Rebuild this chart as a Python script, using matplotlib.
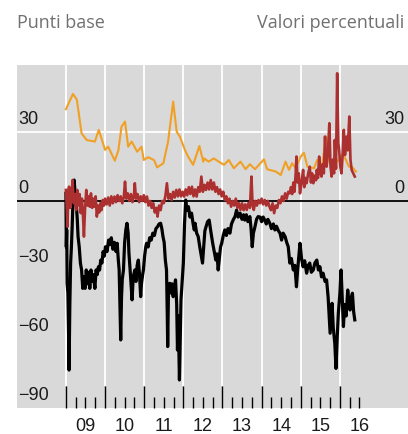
import numpy as np
import matplotlib
matplotlib.use("Agg")
from matplotlib import pyplot as plt
from matplotlib import transforms

############## Data ##############

## black series, punti base
black_t = [2009.00, 2009.01, 2009.02, 2009.03, 2009.05, 2009.07, 2009.08, 2009.10, 2009.12, 2009.14,
           2009.16, 2009.18, 2009.21, 2009.24, 2009.27, 2009.29, 2009.31, 2009.34, 2009.37, 2009.40,
           2009.43, 2009.46, 2009.49, 2009.52, 2009.55, 2009.58, 2009.61, 2009.64, 2009.67, 2009.70,
           2009.74, 2009.77, 2009.80, 2009.83, 2009.86, 2009.89, 2009.92, 2009.95, 2009.98, 2010.01,
           2010.05, 2010.09, 2010.12, 2010.16, 2010.20, 2010.24, 2010.28, 2010.31, 2010.34, 2010.36,
           2010.38, 2010.40, 2010.42, 2010.44, 2010.47, 2010.50, 2010.53, 2010.56, 2010.59, 2010.61,
           2010.64, 2010.67, 2010.69, 2010.72, 2010.76, 2010.79, 2010.82, 2010.85, 2010.88, 2010.91,
           2010.93, 2010.96, 2010.98, 2011.01, 2011.04, 2011.06, 2011.10, 2011.14, 2011.18, 2011.22,
           2011.26, 2011.30, 2011.34, 2011.38, 2011.42, 2011.45, 2011.48, 2011.51, 2011.54, 2011.57,
           2011.59, 2011.60, 2011.62, 2011.65, 2011.68, 2011.71, 2011.74, 2011.77, 2011.80, 2011.83,
           2011.85, 2011.87, 2011.90, 2011.92, 2011.94, 2011.97, 2012.00, 2012.03, 2012.06, 2012.09,
           2012.13, 2012.17, 2012.21, 2012.25, 2012.28, 2012.30, 2012.34, 2012.38, 2012.42, 2012.46,
           2012.49, 2012.52, 2012.55, 2012.58, 2012.62, 2012.66, 2012.70, 2012.75, 2012.79, 2012.83,
           2012.86, 2012.89, 2012.92, 2012.95, 2012.98, 2013.02, 2013.06, 2013.10, 2013.14, 2013.19,
           2013.23, 2013.28, 2013.32, 2013.36, 2013.40, 2013.45, 2013.50, 2013.54, 2013.57, 2013.61,
           2013.65, 2013.70, 2013.73, 2013.76, 2013.79, 2013.83, 2013.87, 2013.91, 2013.96, 2014.00,
           2014.04, 2014.08, 2014.12, 2014.16, 2014.21, 2014.25, 2014.30, 2014.34, 2014.38, 2014.43,
           2014.47, 2014.51, 2014.55, 2014.60, 2014.64, 2014.68, 2014.72, 2014.76, 2014.81, 2014.85,
           2014.89, 2014.92, 2014.96, 2014.98, 2015.02, 2015.06, 2015.10, 2015.15, 2015.19, 2015.23,
           2015.27, 2015.32, 2015.36, 2015.41, 2015.45, 2015.49, 2015.53, 2015.57, 2015.62, 2015.66,
           2015.70, 2015.75, 2015.78, 2015.80, 2015.83, 2015.87, 2015.90, 2015.93, 2015.96, 2016.00,
           2016.03, 2016.06, 2016.09, 2016.12, 2016.16, 2016.20, 2016.23, 2016.26, 2016.29, 2016.32,
           2016.35, 2016.38]
black_v = [3.3, -20, -12.6, -35.7, -40, -60, -73.5, -45, -27, -20,
           -11, 0, 9.1, 2, -2.5, -8, -15.5, -20, -27, -30,
           -38, -33, -38, -30, -36, -31, -38, -30, -35, -32,
           -38, -30, -32, -28.6, -30, -25.7, -27, -22, -24, -19.9,
           -22, -17, -19, -16, -21, -18, -22, -18.4, -26, -30,
           -45, -60.4, -42, -34, -30, -18, -12.6, -9.7, -14, -22.7,
           -30, -38, -43, -33, -30, -35, -28, -25.7, -32, -41.6,
           -36, -32, -30, -24, -20, -18.4, -20, -16, -17, -14,
           -15, -12, -11.2, -10, -9.7, -12, -15.5, -18, -25.7, -30,
           -50, -63.3, -40, -35.8, -40, -36, -41.6, -38, -34.3, -45,
           -64.8, -50, -77.8, -60, -43, -35, -27, -10, 0.4, -4,
           -2.5, -7, -5.3, -10, -12.6, -9.7, -14, -15.5, -20, -24,
           -27, -20, -13, -11.2, -9, -8.3, -13, -18.4, -22, -25.7,
           -23, -30, -25, -20, -18.4, -15, -12.6, -15, -12, -14,
           -10, -8, -6.8, -4, -7, -5.3, -8, -6, -8.3, -6,
           -9, -6.8, -12, -19.9, -14, -11.2, -8, -6.8, -7, -9,
           -7, -8.3, -10, -8, -9.7, -12, -10, -12.6, -11, -13,
           -14, -17, -14, -15.5, -18, -19.9, -27, -25, -30, -28,
           -37.3, -30, -22, -18.4, -25, -28.6, -26, -31.4, -28, -27,
           -31, -30, -27, -25.7, -30, -28.6, -33, -31.4, -35, -34.3,
           -42, -57.5, -50, -44.5, -55, -62, -72.8, -60, -48.8, -40,
           -30, -42, -54.6, -45, -50, -38.7, -44, -47.4, -42, -40.1,
           -48, -51.7]

## red series, punti base
red_t = [2009.00, 2009.02, 2009.04, 2009.06, 2009.08, 2009.11, 2009.14, 2009.17, 2009.20, 2009.23,
         2009.26, 2009.29, 2009.32, 2009.35, 2009.38, 2009.41, 2009.44, 2009.46, 2009.49, 2009.52,
         2009.55, 2009.58, 2009.61, 2009.64, 2009.67, 2009.70, 2009.73, 2009.76, 2009.79, 2009.82,
         2009.85, 2009.88, 2009.91, 2009.94, 2009.97, 2010.00, 2010.04, 2010.08, 2010.12, 2010.16,
         2010.20, 2010.24, 2010.28, 2010.32, 2010.36, 2010.40, 2010.44, 2010.48, 2010.51, 2010.54,
         2010.58, 2010.62, 2010.66, 2010.70, 2010.74, 2010.76, 2010.79, 2010.83, 2010.87, 2010.91,
         2010.95, 2010.99, 2011.03, 2011.07, 2011.11, 2011.15, 2011.19, 2011.23, 2011.27, 2011.31,
         2011.34, 2011.38, 2011.42, 2011.46, 2011.50, 2011.54, 2011.58, 2011.62, 2011.66, 2011.70,
         2011.74, 2011.78, 2011.82, 2011.86, 2011.90, 2011.94, 2011.98, 2012.02, 2012.06, 2012.10,
         2012.14, 2012.18, 2012.22, 2012.26, 2012.30, 2012.34, 2012.38, 2012.42, 2012.46, 2012.50,
         2012.54, 2012.58, 2012.62, 2012.66, 2012.70, 2012.74, 2012.78, 2012.82, 2012.86, 2012.90,
         2012.94, 2012.98, 2013.02, 2013.06, 2013.10, 2013.14, 2013.18, 2013.22, 2013.26, 2013.30,
         2013.34, 2013.38, 2013.42, 2013.46, 2013.50, 2013.54, 2013.58, 2013.62, 2013.66, 2013.70,
         2013.74, 2013.77, 2013.80, 2013.84, 2013.88, 2013.92, 2013.96, 2014.00, 2014.04, 2014.08,
         2014.12, 2014.16, 2014.20, 2014.24, 2014.28, 2014.32, 2014.36, 2014.40, 2014.44, 2014.48,
         2014.52, 2014.56, 2014.60, 2014.64, 2014.68, 2014.72, 2014.75, 2014.78, 2014.81, 2014.84,
         2014.87, 2014.89, 2014.92, 2014.95, 2014.98, 2015.02, 2015.06, 2015.09, 2015.12, 2015.15,
         2015.19, 2015.23, 2015.26, 2015.29, 2015.32, 2015.36, 2015.39, 2015.41, 2015.44, 2015.47,
         2015.50, 2015.53, 2015.56, 2015.59, 2015.62, 2015.64, 2015.66, 2015.69, 2015.73, 2015.76,
         2015.79, 2015.82, 2015.85, 2015.87, 2015.90, 2015.93, 2015.96, 2015.98, 2016.01, 2016.04,
         2016.07, 2016.10, 2016.13, 2016.17, 2016.20, 2016.24, 2016.27, 2016.30, 2016.34, 2016.38]
red_v = [4.8, -2, -11.2, 3, 6.2, -3, 2, 9.1, -1, 3,
         -4, 4.8, -2, 3, -5.3, 1, -8, -15.5, -3, 4.8,
         -2, 2, -2.5, 3.3, -3, 1, -2.5, 2, -6.8, -2,
         -5, -1, -4, 0.4, -2, 1, -1.5, 1.5, -2, 2,
         -1, 1.9, -0.5, 2.5, 0, 2, -1, 2, 8.4, 1,
         3.3, 0, 3, -0.5, 3, 7.7, 1, 3, -0.5, 2,
         0, 2.5, -0.5, 1.9, -2, 0, -3, -1, -5, -3,
         -6.8, -2, -4, 0, -1, 2, 7.7, 1, 3, 0.4,
         4, 1.5, 4.8, 2, 5, 2, 4, 1.9, 5, 2.5,
         6, 3, 6.2, 2, 5, 1.9, 6, 4, 10.6, 4,
         7, 4.8, 8, 5, 9.1, 5, 8, 4, 6, 3,
         5, 2, 4, 0.4, 2, -1, 1, -2.5, 0, -2,
         1, -3, -1, -3.9, -1, -4, -1.5, -3.9, -1, -3,
         10.6, -2, -3.9, 0, -2, 0.4, -1, 1, -1.5, 0.4,
         -2, 0, -2.5, -4, -1, -5.3, -2, -3, 0.4, -1,
         2, 0, 3.3, 1, 4, 3.3, 6, 3, 8, 4,
         12, 19.3, 8, 12, 3.3, 8, 13.5, 6, 10, 7.7,
         12, 14.9, 8, 12, 7.7, 11, 9, 13.5, 10, 19.3,
         12, 10.6, 16, 12, 28, 18, 14.9, 20, 33.8, 15,
         10.6, 18, 12, 26.5, 14, 55.5, 25, 22.2, 15, 12,
         20, 30.9, 20, 28, 22, 36.7, 18, 13.5, 12, 10.6]

## orange series, valori percentuali
orange_t = [2009.00, 2009.18, 2009.28, 2009.40, 2009.53, 2009.74, 2009.84, 2010.00, 2010.08, 2010.25,
            2010.34, 2010.42, 2010.51, 2010.59, 2010.68, 2010.82, 2010.93, 2010.99, 2011.10, 2011.25,
            2011.33, 2011.49, 2011.61, 2011.74, 2011.83, 2011.91, 2012.04, 2012.12, 2012.25, 2012.41,
            2012.51, 2012.53, 2012.65, 2012.78, 2012.91, 2013.04, 2013.16, 2013.29, 2013.46, 2013.59,
            2013.70, 2013.83, 2014.06, 2014.14, 2014.36, 2014.49, 2014.61, 2014.70, 2014.78, 2014.87,
            2015.00, 2015.08, 2015.17, 2015.34, 2015.42, 2015.55, 2015.64, 2015.74, 2015.90, 2016.08,
            2016.23, 2016.30, 2016.41]
orange_v = [39.9, 46.5, 44, 29.4, 26.5, 25.8, 30.9, 22.2, 23.6, 17.5,
            22, 32.3, 34.5, 23.6, 25.8, 21.4, 23.6, 17.8, 19, 17.8,
            14.6, 16.4, 25.8, 43.2, 30.1, 28, 22.2, 19.3, 15.7, 23.9,
            17.1, 18.5, 17.1, 18.5, 17, 15.7, 17.8, 14.2, 17.1, 13.8,
            16, 13.8, 18.1, 13.8, 12.8, 11.3, 17.1, 13.5, 16.4, 14.2,
            19.3, 21, 14.9, 14.2, 17.8, 15.7, 28, 16.4, 16.4, 20.7,
            14.9, 14.9, 12.8]

years = [2009, 2010, 2011, 2012, 2013, 2014, 2015, 2016]
year_labels = ["09", "10", "11", "12", "13", "14", "15", "16"]
left_ticks = [30, 0, -30, -60, -90]
right_ticks = [30, 0]

############## Figure ##############

fig = plt.figure(figsize=(4.08, 4.34), dpi=100)
ax = fig.add_axes([17/408, 26/434, 391/408, 343/434])
ax.set_facecolor("#d9d9d9")
for s in ax.spines.values():
    s.set_visible(False)

ax.set_xlim(2007.75, 2017.74)
ax.set_ylim(-90, 59.1)

## grid
ax.vlines(years, -80.4, 59.1, color="white", lw=1.3, zorder=1)
ax.axhline(30, color="white", lw=1.3, zorder=1)
ax.axhline(0, color="black", lw=1.3, zorder=2)

## series
ax.plot(orange_t, orange_v, color="#f0a024", lw=1.5, zorder=3)
ax.plot(black_t, black_v, color="black", lw=2.3, zorder=4)
ax.plot(red_t, red_v, color="#ad3030", lw=1.9, zorder=5)

## ticks inside at the bottom
quarters = [y + q for y in range(2009, 2017) for q in (0.25, 0.5, 0.75) if y + q <= 2016.5]
ax.set_xticks(years)
ax.set_xticks(quarters, minor=True)
ax.set_xticklabels([])
ax.tick_params(axis="x", which="major", direction="in", length=15.8, width=1, color="black")
ax.tick_params(axis="x", which="minor", direction="in", length=7.9, width=1, color="black")
ax.set_yticks([])

## y labels written inside the plot
off = transforms.offset_copy(ax.transData, fig=fig, x=0, y=3, units="points")
tl = transforms.blended_transform_factory(ax.transAxes, off)
for v in left_ticks:
    lab = str(v).replace("-", "\u2212")
    ax.text(0.003, v, lab, transform=tl, ha="left", va="bottom",
            fontsize=13, family="Liberation Sans", color="#1a1a1a")
for v in right_ticks:
    ax.text(0.99, v, str(v), transform=tl, ha="right", va="bottom",
            fontsize=13, family="Liberation Sans", color="#1a1a1a")

## year labels
for y, lab in zip(years, year_labels):
    ax.text(y + 0.5, -0.055, lab, transform=ax.get_xaxis_transform(), ha="center", va="center",
            fontsize=13, family="Liberation Sans", color="#1a1a1a")

## headers
fig.text(17/408, 1 - 23/434, "Punti base", ha="left", va="center",
         fontsize=13, family="Open Sans", color="#707070")
fig.text(404/408, 1 - 23/434, "Valori percentuali", ha="right", va="center",
         fontsize=13, family="Open Sans", color="#707070")

fig.savefig("out.png", dpi=100)
